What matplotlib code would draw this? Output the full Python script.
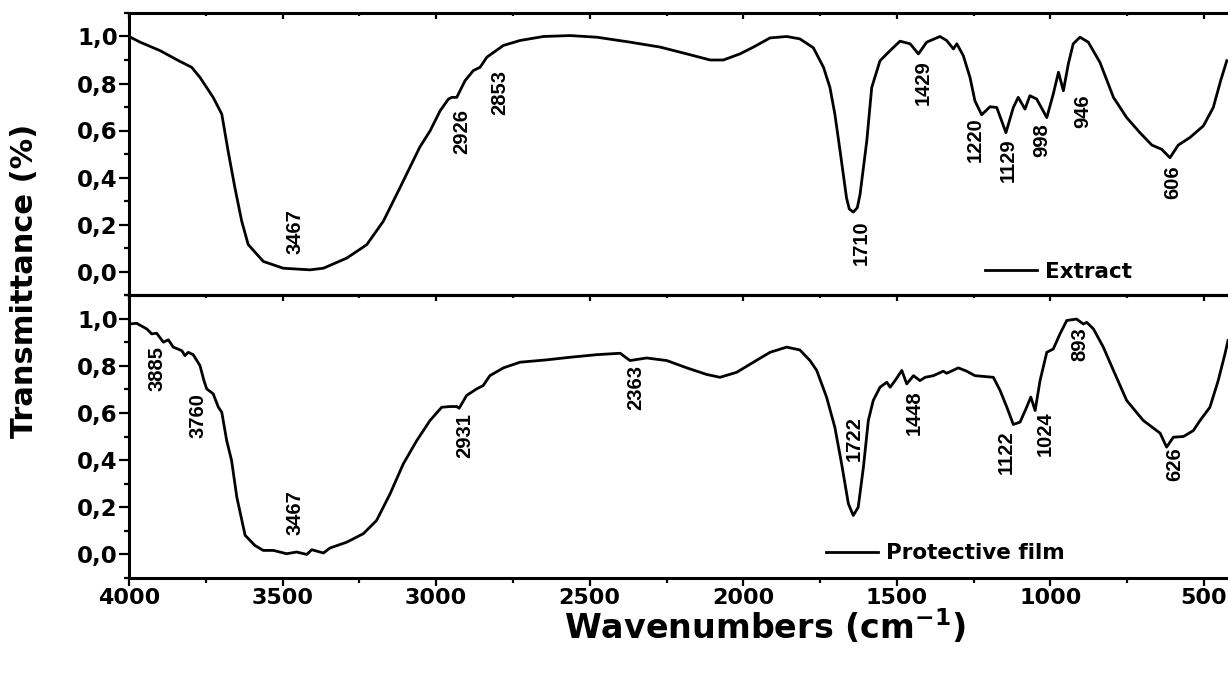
import matplotlib
matplotlib.use('Agg')
import matplotlib.pyplot as plt
from matplotlib.ticker import MultipleLocator, FuncFormatter

# FTIR spectra (wavenumber in cm-1, transmittance)
ext_wn = [4000, 3964, 3899, 3834, 3796, 3769, 3726, 3698, 3677, 3655, 3633, 3612,
          3563, 3498, 3411, 3367, 3291, 3226, 3172, 3118, 3053, 3020, 2987, 2960,
          2949, 2933, 2906, 2879, 2857, 2835, 2781, 2727, 2651, 2564, 2477, 2369,
          2271, 2184, 2108, 2065, 2011, 1967, 1913, 1859, 1816, 1772, 1739, 1718,
          1702, 1685, 1664, 1655, 1642, 1629, 1620, 1598, 1582, 1555, 1522, 1490,
          1457, 1430, 1403, 1360, 1338, 1316, 1305, 1284, 1262, 1246, 1224, 1197,
          1175, 1145, 1121, 1105, 1083, 1067, 1045, 1012, 991, 974, 958, 942, 926,
          904, 877, 839, 795, 752, 709, 670, 638, 611, 584, 546, 502, 470, 446, 426]
ext_t = [1.0, 0.976, 0.94, 0.894, 0.869, 0.826, 0.741, 0.67, 0.51, 0.355, 0.214, 0.115,
         0.043, 0.014, 0.007, 0.014, 0.057, 0.114, 0.214, 0.356, 0.53, 0.598, 0.684, 0.734,
         0.741, 0.741, 0.812, 0.855, 0.869, 0.912, 0.962, 0.983, 1.0, 1.004, 0.997, 0.976,
         0.955, 0.926, 0.9, 0.9, 0.926, 0.955, 0.994, 1.0, 0.99, 0.952, 0.869, 0.783,
         0.67, 0.513, 0.313, 0.266, 0.253, 0.271, 0.328, 0.556, 0.783, 0.897, 0.94, 0.98,
         0.969, 0.926, 0.976, 1.0, 0.983, 0.947, 0.969, 0.919, 0.826, 0.726, 0.667, 0.701,
         0.698, 0.591, 0.698, 0.741, 0.691, 0.748, 0.734, 0.655, 0.755, 0.848, 0.769, 0.883, 0.969,
         0.997, 0.976, 0.89, 0.741, 0.655, 0.591, 0.538, 0.52, 0.484, 0.538, 0.57, 0.62, 0.698, 0.812, 0.897]

film_wn = [4000, 3975, 3942, 3926, 3910, 3888, 3872, 3856, 3828, 3818, 3807, 3791,
           3769, 3756, 3747, 3726, 3709, 3698, 3682, 3666, 3649, 3622, 3590, 3563,
           3530, 3487, 3454, 3421, 3405, 3367, 3346, 3291, 3237, 3194, 3150, 3107,
           3063, 3020, 2982, 2955, 2933, 2925, 2901, 2868, 2847, 2825, 2781, 2727,
           2640, 2564, 2477, 2401, 2369, 2315, 2249, 2184, 2119, 2076, 2022, 1967,
           1913, 1859, 1816, 1783, 1761, 1729, 1702, 1680, 1658, 1642, 1626, 1609,
           1593, 1577, 1555, 1533, 1522, 1506, 1484, 1468, 1446, 1425, 1408, 1381,
           1349, 1338, 1300, 1273, 1246, 1186, 1164, 1142, 1121, 1099, 1080, 1064,
           1050, 1034, 1012, 991, 969, 947, 915, 893, 882, 860, 828, 795, 752, 698,
           643, 622, 600, 567, 535, 513, 481, 454, 432, 422]
film_t = [0.977, 0.98, 0.956, 0.935, 0.938, 0.9, 0.91, 0.879, 0.864, 0.843, 0.857, 0.847,
          0.801, 0.737, 0.702, 0.681, 0.624, 0.603, 0.483, 0.398, 0.243, 0.081, 0.038, 0.017,
          0.017, 0.003, 0.01, 0.0, 0.02, 0.006, 0.027, 0.052, 0.088, 0.144, 0.257, 0.384,
          0.483, 0.568, 0.624, 0.627, 0.627, 0.62, 0.674, 0.702, 0.716, 0.758, 0.791, 0.815,
          0.825, 0.836, 0.847, 0.853, 0.822, 0.833, 0.822, 0.791, 0.763, 0.751, 0.772, 0.815,
          0.857, 0.879, 0.867, 0.822, 0.78, 0.667, 0.539, 0.384, 0.215, 0.165, 0.2, 0.37,
          0.568, 0.653, 0.709, 0.73, 0.709, 0.737, 0.78, 0.723, 0.758, 0.737, 0.751, 0.758,
          0.777, 0.768, 0.791, 0.777, 0.758, 0.751, 0.695, 0.624, 0.551, 0.561, 0.617, 0.667,
          0.61, 0.737, 0.857, 0.871, 0.935, 0.992, 0.998, 0.977, 0.984, 0.956, 0.879, 0.78, 0.653, 0.568,
          0.514, 0.455, 0.497, 0.5, 0.525, 0.568, 0.624, 0.737, 0.85, 0.907]

# peak labels and where their text sits (x in cm-1, y in transmittance)
ext_peaks = ['3467', '2926', '2853', '1710', '1429', '1220', '1129', '998', '946', '606']
ext_peak_x = [3459, 2917, 2792, 1615, 1415, 1246, 1138, 1027, 894, 601]
ext_peak_y = [0.171, 0.594, 0.761, 0.124, 0.803, 0.56, 0.474, 0.56, 0.684, 0.38]

film_peaks = ['3885', '3760', '3467', '2931', '2363', '1722', '1448', '1122', '1024', '893', '626']
film_peak_x = [3910, 3774, 3460, 2906, 2349, 1639, 1443, 1143, 1018, 904, 595]
film_peak_y = [0.788, 0.589, 0.179, 0.504, 0.706, 0.49, 0.599, 0.433, 0.511, 0.893, 0.381]

plt.rcParams['font.family'] = 'DejaVu Sans'

W, H = 1228.0, 675.0
fig = plt.figure(figsize=(12.28, 6.75), dpi=100)
ax1 = fig.add_axes([129 / W, 1 - 295 / H, 1111 / W, 282 / H])
ax2 = fig.add_axes([129 / W, 1 - 578 / H, 1111 / W, 283 / H], sharex=ax1)

comma = FuncFormatter(lambda v, p: ('%.1f' % v).replace('.', ','))

ax1.plot(ext_wn, ext_t, color='black', lw=2.0, label='Extract')
ax2.plot(film_wn, film_t, color='black', lw=2.0, label='Protective film')

peak_font = dict(rotation=90, ha='center', va='center', fontsize=14.5,
                 family='Liberation Sans', fontweight='bold')
for lab, x, y in zip(ext_peaks, ext_peak_x, ext_peak_y):
    ax1.text(x, y, lab, **peak_font)
for lab, x, y in zip(film_peaks, film_peak_x, film_peak_y):
    ax2.text(x, y, lab, **peak_font)

for ax in (ax1, ax2):
    ax.set_xlim(4000, 383)
    ax.set_ylim(-0.1, 1.1)
    ax.yaxis.set_major_locator(MultipleLocator(0.2))
    ax.yaxis.set_minor_locator(MultipleLocator(0.1))
    ax.yaxis.set_major_formatter(comma)
    ax.xaxis.set_major_locator(MultipleLocator(500))
    ax.xaxis.set_minor_locator(MultipleLocator(250))
    for s in ax.spines.values():
        s.set_linewidth(2.2)
    ax.tick_params(axis='y', which='major', direction='out', length=7, width=1.6, pad=1,
                   labelsize=16.5)
    ax.tick_params(axis='y', which='minor', direction='out', length=3.5, width=1.6)
    for t in ax.get_yticklabels():
        t.set_fontweight('bold')

ax1.tick_params(axis='x', which='both', bottom=False, top=True, direction='in',
                labelbottom=False, width=1.6)
ax1.tick_params(axis='x', which='major', length=4)
ax1.tick_params(axis='x', which='minor', length=2.5)

ax2.tick_params(axis='x', which='major', direction='out', length=5.5, width=1.6, pad=2,
                labelsize=16)
ax2.tick_params(axis='x', which='minor', direction='out', length=3.5, width=1.6)
for t in ax2.get_xticklabels():
    t.set_fontweight('bold')

top2 = ax2.secondary_xaxis('top')
top2.xaxis.set_major_locator(MultipleLocator(500))
top2.xaxis.set_minor_locator(MultipleLocator(250))
top2.tick_params(axis='x', which='both', direction='in', labeltop=False, width=1.6)
top2.tick_params(axis='x', which='major', length=4)
top2.tick_params(axis='x', which='minor', length=2.5)
top2.spines['top'].set_linewidth(2.2)

ax1.legend(loc='center left', bbox_to_anchor=(0.7705, 0.082), frameon=False,
           borderpad=0, borderaxespad=0, handlelength=2.4, handletextpad=0.4,
           prop={'weight': 'bold', 'size': 15.5})
ax2.legend(loc='center left', bbox_to_anchor=(0.6274, 0.088), frameon=False,
           borderpad=0, borderaxespad=0, handlelength=2.4, handletextpad=0.4,
           prop={'weight': 'bold', 'size': 15.5})

fig.text(25 / W, 1 - 281 / H, 'Transmittance (%)', rotation=90, ha='center', va='center',
         fontsize=22, fontweight='bold')
fig.text(765 / W, 1 - 627 / H, r'Wavenumbers (cm$^{\mathbf{-1}}$)', ha='center', va='center',
         fontsize=24, fontweight='bold')

fig.savefig('out.png', dpi=100)
